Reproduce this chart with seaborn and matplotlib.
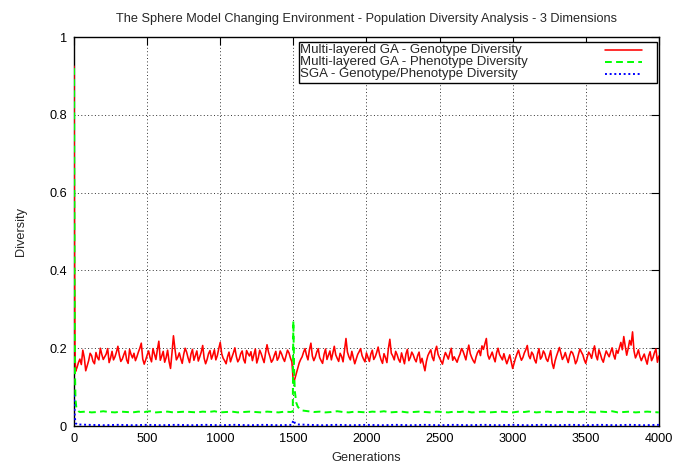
import numpy as np
import pandas as pd
import seaborn as sns
import matplotlib
matplotlib.use("Agg")
import matplotlib.pyplot as plt
from matplotlib.lines import Line2D
from matplotlib.patches import Rectangle

# ---- data -------------------------------------------------------------
title = "The Sphere Model Changing Environment - Population Diversity Analysis - 3 Dimensions"
series_labels = [
    "Multi-layered GA - Genotype Diversity",
    "Multi-layered GA - Phenotype Diversity",
    "SGA - Genotype/Phenotype Diversity",
]
x_ticks = [0, 500, 1000, 1500, 2000, 2500, 3000, 3500, 4000]
y_ticks = [0, 0.2, 0.4, 0.6, 0.8, 1.0]
y_tick_labels = ["0", "0.2", "0.4", "0.6", "0.8", "1"]

# Multi-layered GA genotype diversity
geno_gen = [0, 3, 6] + list(range(10, 4001, 10))
geno_div = [
    0.925, 0.45, 0.21,
    0.140, 0.150, 0.163, 0.172, 0.158, 0.195, 0.176, 0.142, 0.155, 0.168,
    0.187, 0.181, 0.166, 0.160, 0.189, 0.176, 0.170, 0.200, 0.184, 0.171,
    0.178, 0.185, 0.199, 0.163, 0.175, 0.192, 0.170, 0.178, 0.190, 0.205,
    0.182, 0.166, 0.172, 0.183, 0.193, 0.170, 0.161, 0.197, 0.184, 0.175,
    0.187, 0.168, 0.178, 0.190, 0.200, 0.213, 0.172, 0.159, 0.170, 0.182,
    0.193, 0.176, 0.165, 0.199, 0.185, 0.171, 0.196, 0.218, 0.169, 0.180,
    0.192, 0.164, 0.176, 0.195, 0.166, 0.148, 0.188, 0.232, 0.199, 0.170,
    0.177, 0.188, 0.173, 0.161, 0.184, 0.200, 0.190, 0.175, 0.163, 0.185,
    0.197, 0.169, 0.181, 0.193, 0.167, 0.178, 0.190, 0.207, 0.174, 0.160,
    0.171, 0.186, 0.194, 0.172, 0.183, 0.196, 0.170, 0.181, 0.199, 0.215,
    0.186, 0.174, 0.168, 0.160, 0.178, 0.190, 0.165, 0.177, 0.188, 0.201,
    0.179, 0.165, 0.172, 0.186, 0.193, 0.171, 0.162, 0.194, 0.186, 0.180,
    0.191, 0.168, 0.183, 0.198, 0.162, 0.175, 0.195, 0.186, 0.174, 0.163,
    0.188, 0.209, 0.190, 0.178, 0.164, 0.170, 0.182, 0.192, 0.169, 0.176,
    0.193, 0.185, 0.174, 0.166, 0.180, 0.195, 0.188, 0.175, 0.165, 0.112,
    0.121, 0.135, 0.150, 0.162, 0.171, 0.178, 0.190, 0.199, 0.182, 0.170,
    0.196, 0.213, 0.180, 0.168, 0.177, 0.190, 0.199, 0.176, 0.168, 0.161,
    0.184, 0.198, 0.171, 0.182, 0.193, 0.170, 0.188, 0.205, 0.183, 0.174,
    0.166, 0.187, 0.179, 0.165, 0.196, 0.225, 0.190, 0.178, 0.170, 0.192,
    0.176, 0.160, 0.172, 0.184, 0.191, 0.199, 0.181, 0.172, 0.165, 0.188,
    0.177, 0.166, 0.185, 0.195, 0.171, 0.178, 0.189, 0.203, 0.183, 0.170,
    0.161, 0.186, 0.176, 0.163, 0.199, 0.223, 0.187, 0.180, 0.170, 0.192,
    0.183, 0.171, 0.164, 0.188, 0.174, 0.160, 0.185, 0.197, 0.168, 0.176,
    0.190, 0.183, 0.172, 0.165, 0.181, 0.190, 0.162, 0.174, 0.158, 0.142,
    0.166, 0.181, 0.189, 0.196, 0.177, 0.168, 0.193, 0.205, 0.184, 0.175,
    0.167, 0.159, 0.176, 0.189, 0.181, 0.172, 0.187, 0.200, 0.169, 0.178,
    0.171, 0.164, 0.176, 0.185, 0.199, 0.193, 0.182, 0.170, 0.191, 0.208,
    0.186, 0.176, 0.168, 0.162, 0.178, 0.189, 0.195, 0.181, 0.206, 0.197,
    0.211, 0.225, 0.183, 0.172, 0.181, 0.190, 0.176, 0.165, 0.188, 0.200,
    0.184, 0.177, 0.170, 0.186, 0.172, 0.160, 0.171, 0.183, 0.165, 0.148,
    0.162, 0.175, 0.186, 0.195, 0.180, 0.169, 0.176, 0.188, 0.196, 0.207,
    0.181, 0.173, 0.190, 0.184, 0.170, 0.162, 0.185, 0.199, 0.172, 0.178,
    0.193, 0.186, 0.172, 0.166, 0.180, 0.194, 0.162, 0.148, 0.167, 0.180,
    0.191, 0.202, 0.186, 0.171, 0.178, 0.189, 0.175, 0.163, 0.181, 0.192,
    0.188, 0.177, 0.160, 0.168, 0.184, 0.198, 0.190, 0.183, 0.170, 0.161,
    0.177, 0.190, 0.184, 0.174, 0.193, 0.206, 0.181, 0.170, 0.196, 0.185,
    0.172, 0.164, 0.180, 0.193, 0.185, 0.178, 0.190, 0.201, 0.183, 0.172,
    0.195, 0.187, 0.201, 0.215, 0.196, 0.230, 0.205, 0.182, 0.199, 0.220,
    0.208, 0.242, 0.193, 0.175, 0.184, 0.196, 0.179, 0.168, 0.177, 0.185,
    0.171, 0.159, 0.180, 0.191, 0.168, 0.176, 0.189, 0.198, 0.164, 0.180,
]

# Multi-layered GA phenotype diversity
pheno_gen = [0, 3, 6, 10, 15, 20, 30] + list(range(40, 1481, 40)) + \
    [1496, 1500, 1505, 1510, 1520, 1530, 1540, 1560] + list(range(1600, 4001, 40))
pheno_div = [
    0.920, 0.40, 0.15, 0.070, 0.050, 0.042, 0.038,
    0.036, 0.037, 0.035, 0.036, 0.038, 0.036, 0.035, 0.037, 0.036, 0.035,
    0.037, 0.036, 0.038, 0.035, 0.036, 0.037, 0.035, 0.036, 0.037, 0.036,
    0.035, 0.037, 0.036, 0.038, 0.035, 0.036, 0.037, 0.035, 0.036, 0.037,
    0.036, 0.035, 0.037, 0.036, 0.035, 0.037, 0.036,
    0.037, 0.270, 0.150, 0.090, 0.060, 0.050, 0.045, 0.040,
    0.038, 0.036, 0.037, 0.035, 0.036, 0.038, 0.036, 0.035, 0.037, 0.036,
    0.035, 0.037, 0.036, 0.038, 0.035, 0.036, 0.037, 0.035, 0.036, 0.037,
    0.036, 0.035, 0.037, 0.036, 0.035, 0.037, 0.036, 0.038, 0.035, 0.036,
    0.037, 0.035, 0.036, 0.037, 0.036, 0.035, 0.037, 0.036, 0.038, 0.035,
    0.036, 0.037, 0.035, 0.036, 0.037, 0.036, 0.035, 0.037, 0.036, 0.035,
    0.037, 0.036, 0.038, 0.035, 0.036, 0.037, 0.035, 0.036, 0.037, 0.036,
    0.035,
]

# SGA genotype/phenotype diversity
sga_gen = [0, 5, 10, 20] + list(range(100, 1401, 100)) + [1490, 1500, 1510, 1530] + \
    list(range(1600, 4001, 100))
sga_div = [
    0.080, 0.025, 0.008, 0.004,
    0.003, 0.002, 0.003, 0.002, 0.003, 0.002, 0.003, 0.002, 0.003, 0.002,
    0.003, 0.002, 0.003, 0.002,
    0.003, 0.015, 0.008, 0.004,
    0.003, 0.002, 0.003, 0.002, 0.003, 0.002, 0.003, 0.002, 0.003, 0.002,
    0.003, 0.002, 0.003, 0.002, 0.003, 0.002, 0.003, 0.002, 0.003, 0.002,
    0.003, 0.002, 0.003, 0.002, 0.003,
]

# ---- figure -----------------------------------------------------------
sns.set_style("white")
plt.rcParams["font.family"] = ["Liberation Sans", "DejaVu Sans"]

fig = plt.figure(figsize=(6.73, 4.66), dpi=100)
ax = fig.add_axes([0.110, 0.0858, 0.869, 0.8348])

colors = ["#ff0000", "#00ff00", "#0000ff"]
styles = ["-", (0, (3.5, 2.2)), (0, (1.0, 1.4))]
widths = [1.15, 1.4, 1.4]

frames = [
    pd.DataFrame({"gen": geno_gen, "div": geno_div}),
    pd.DataFrame({"gen": pheno_gen, "div": pheno_div}),
    pd.DataFrame({"gen": sga_gen, "div": sga_div}),
]
for df, c, ls, lw in zip(frames, colors, styles, widths):
    sns.lineplot(data=df, x="gen", y="div", color=c, linewidth=lw,
                 linestyle=ls, ax=ax, zorder=3)

ax.set_xlim(0, 4000)
ax.set_ylim(0, 1)
ax.set_xticks(x_ticks)
ax.set_yticks(y_ticks)
ax.set_yticklabels(y_tick_labels)
ax.tick_params(direction="in", length=5.5, width=0.8, top=True, right=True,
               labelsize=9.2, colors="black", pad=5)
for s in ax.spines.values():
    s.set_color("black")
    s.set_linewidth(1.0)
ax.grid(True, color="black", linestyle=(0, (1, 2.5)), linewidth=0.7, alpha=0.8)

ax.set_xlabel("Generations", fontsize=9.2, labelpad=5)
ax.set_ylabel("Diversity", fontsize=9.2, labelpad=16)
ax.set_title(title, fontsize=9.2, pad=11)

# key box in the upper right
ax.add_patch(Rectangle((0.3846, 0.8817), 0.612, 0.1053, transform=ax.transAxes,
                       facecolor="white", edgecolor="black", linewidth=1.0,
                       zorder=5))
rows_y = [0.9666, 0.9365, 0.9041]
for lbl, ry, c, ls, lw in zip(series_labels, rows_y, colors, styles, widths):
    ax.text(0.387, ry, lbl, transform=ax.transAxes, fontsize=9.5,
            va="center", ha="left", zorder=6)
    ax.add_line(Line2D([0.9077, 0.9713], [ry, ry], transform=ax.transAxes,
                       color=c, linestyle=ls, linewidth=lw, zorder=6))

fig.savefig("out.png", dpi=100)
